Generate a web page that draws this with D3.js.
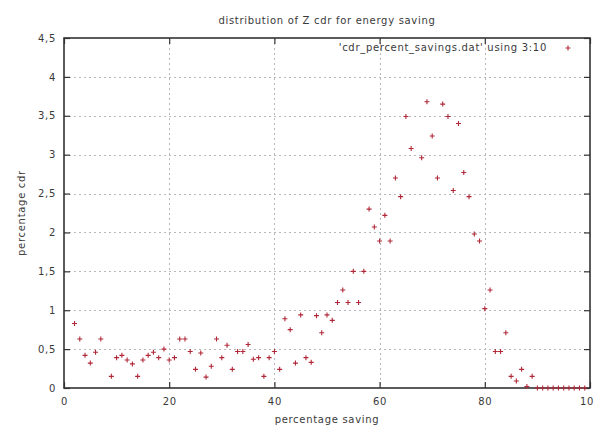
<!DOCTYPE html>
<html>
<head>
<meta charset="utf-8">
<script src="https://cdn.jsdelivr.net/npm/d3@7"></script>
<style>
  html, body { margin: 0; padding: 0; background: #fff; }
  svg { display: block; }
  text { font-family: "DejaVu Sans", sans-serif; fill: #3a3a3a; }
</style>
</head>
<body>
<svg id="chart" width="593" height="426"></svg>
<script>
// Percentage saving (column 3) and percentage of cdr (column 10)
const savings = [2, 3, 4, 5, 6, 7, 9, 10, 11, 12, 13, 14, 15, 16, 17, 18, 19, 20, 21, 22, 23, 24, 25,
  26, 27, 28, 29, 30, 31, 32, 33, 34, 35, 36, 37, 38, 39, 40, 41, 42, 43, 44, 45, 46, 47, 48, 49, 50,
  51, 52, 53, 54, 55, 56, 57, 58, 59, 60, 61, 62, 63, 64, 65, 66, 68, 69, 70, 71, 72, 73, 74, 75,
  76, 77, 78, 79, 80, 81, 82, 83, 84, 85, 86, 87, 88, 89, 90, 91, 92, 93, 94, 95, 96, 97, 98, 99];
const cdrPercent = [0.83, 0.63, 0.42, 0.32, 0.46, 0.63, 0.15, 0.39, 0.42, 0.36, 0.31, 0.15, 0.36, 0.42,
  0.46, 0.39, 0.50, 0.36, 0.39, 0.63, 0.63, 0.47, 0.24, 0.45, 0.14, 0.28, 0.63, 0.39, 0.55, 0.24,
  0.47, 0.47, 0.56, 0.37, 0.39, 0.15, 0.39, 0.47, 0.24, 0.89, 0.75, 0.32, 0.94, 0.39, 0.33, 0.93,
  0.71, 0.94, 0.87, 1.10, 1.26, 1.10, 1.50, 1.10, 1.50, 2.30, 2.07, 1.89, 2.22, 1.89, 2.70, 2.46,
  3.49, 3.08, 2.96, 3.68, 3.24, 2.70, 3.65, 3.49, 2.54, 3.40, 2.77, 2.46, 1.98, 1.89, 1.02, 1.26,
  0.47, 0.47, 0.71, 0.15, 0.09, 0.24, 0.02, 0.15, 0, 0, 0, 0, 0, 0, 0, 0, 0, 0];

const xTicks = [0, 20, 40, 60, 80, 100];
const yTicks = [0, 0.5, 1, 1.5, 2, 2.5, 3, 3.5, 4, 4.5];

const titleText = "distribution of Z cdr for energy saving";
const xLabel = "percentage saving";
const yLabel = "percentage cdr";
const legendText = "'cdr_percent_savings.dat' using 3:10";

const plotLeft = 64, plotRight = 590, plotTop = 38, plotBottom = 388;
const fontSize = 10, spacing = 0.7;
const svg = d3.select("#chart");

const x = d3.scaleLinear().domain([0, 100]).range([plotLeft, plotRight]);
const y = d3.scaleLinear().domain([0, 4.5]).range([plotBottom, plotTop]);
const fmt = d => String(d).replace(".", ",");

// dotted grid
const grid = svg.append("g").attr("stroke", "#b8b8b8").attr("stroke-width", 1)
  .attr("stroke-dasharray", "2,3");
grid.selectAll(".gy").data(yTicks.slice(1, -1)).join("line")
  .attr("x1", plotLeft).attr("x2", plotRight)
  .attr("y1", d => Math.round(y(d)) + 0.5).attr("y2", d => Math.round(y(d)) + 0.5);
grid.selectAll(".gx").data(xTicks.slice(1, -1)).join("line")
  .attr("y1", plotTop).attr("y2", plotBottom)
  .attr("x1", d => Math.round(x(d)) + 0.5).attr("x2", d => Math.round(x(d)) + 0.5);

// axes with inward ticks (labels drawn outside)
const yAxis = svg.append("g").attr("transform", `translate(${plotLeft},0)`)
  .call(d3.axisLeft(y).tickValues(yTicks).tickFormat(fmt).tickSizeInner(-6).tickSizeOuter(0).tickPadding(8));
const yAxisR = svg.append("g").attr("transform", `translate(${plotRight},0)`)
  .call(d3.axisRight(y).tickValues(yTicks).tickFormat("").tickSizeInner(-6).tickSizeOuter(0));
const xAxis = svg.append("g").attr("transform", `translate(0,${plotBottom})`)
  .call(d3.axisBottom(x).tickValues(xTicks).tickFormat(d => d).tickSizeInner(-6).tickSizeOuter(0).tickPadding(10));
const xAxisT = svg.append("g").attr("transform", `translate(0,${plotTop})`)
  .call(d3.axisTop(x).tickValues(xTicks).tickFormat("").tickSizeInner(-6).tickSizeOuter(0));

[yAxis, yAxisR, xAxis, xAxisT].forEach(g => {
  g.select(".domain").remove();
  g.selectAll(".tick line").attr("stroke", "#333").attr("stroke-width", 1.2);
  g.selectAll("text").attr("font-size", fontSize).attr("letter-spacing", spacing)
    .attr("fill", "#3a3a3a").attr("font-family", "DejaVu Sans, sans-serif");
});

// plot border
svg.append("rect").attr("x", plotLeft).attr("y", plotTop)
  .attr("width", plotRight - plotLeft).attr("height", plotBottom - plotTop)
  .attr("fill", "none").attr("stroke", "#333").attr("stroke-width", 1.6);

// "+" point markers
const plus = "M-2.5,0H2.5M0,-2.5V2.5";
const markColor = "#b02838";
svg.append("g").selectAll("path").data(savings).join("path")
  .attr("d", plus)
  .attr("transform", (d, i) => `translate(${x(d)},${y(cdrPercent[i])})`)
  .attr("stroke", markColor).attr("stroke-width", 1.1).attr("fill", "none");

// key
svg.append("text").attr("x", 547).attr("y", 51).attr("text-anchor", "end")
  .attr("font-size", fontSize).attr("letter-spacing", spacing).text(legendText);
svg.append("path").attr("d", plus).attr("transform", "translate(568,48)")
  .attr("stroke", markColor).attr("stroke-width", 1.1);

// titles
svg.append("text").attr("x", (plotLeft + plotRight) / 2).attr("y", 24).attr("text-anchor", "middle")
  .attr("font-size", fontSize).attr("letter-spacing", spacing).text(titleText);
svg.append("text").attr("x", (plotLeft + plotRight) / 2).attr("y", 423).attr("text-anchor", "middle")
  .attr("font-size", fontSize).attr("letter-spacing", spacing).text(xLabel);
svg.append("text").attr("transform", `translate(25,${(plotTop + plotBottom) / 2}) rotate(-90)`)
  .attr("text-anchor", "middle").attr("font-size", fontSize).attr("letter-spacing", spacing).text(yLabel);
</script>
</body>
</html>
